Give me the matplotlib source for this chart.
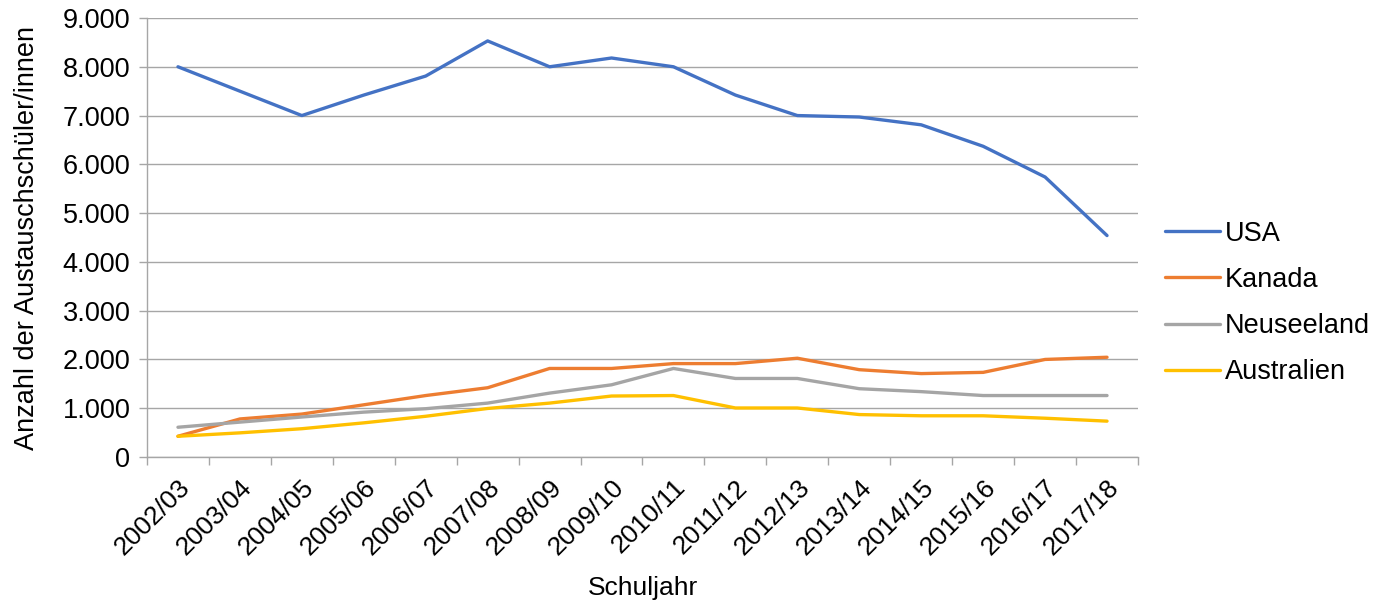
import matplotlib
matplotlib.use("Agg")
import matplotlib.pyplot as plt
from matplotlib.ticker import FuncFormatter, FixedLocator

plt.rcParams['font.family'] = ['Liberation Sans', 'DejaVu Sans']

schuljahre = ["2002/03", "2003/04", "2004/05", "2005/06", "2006/07", "2007/08",
              "2008/09", "2009/10", "2010/11", "2011/12", "2012/13", "2013/14",
              "2014/15", "2015/16", "2016/17", "2017/18"]

usa = [8000, 7500, 7000, 7420, 7810, 8530, 8000, 8180, 8000, 7420, 7000,
       6970, 6810, 6370, 5740, 4540]
kanada = [425, 780, 880, 1070, 1260, 1420, 1815, 1815, 1915, 1915, 2025,
          1790, 1710, 1735, 2000, 2045]
neuseeland = [610, 715, 820, 920, 990, 1105, 1310, 1480, 1815, 1610, 1610,
              1400, 1340, 1260, 1260, 1260]
australien = [425, 495, 580, 700, 835, 995, 1105, 1250, 1260, 1005, 1005,
              870, 845, 845, 795, 735]

serien = [("USA", usa, "#4472C4"),
          ("Kanada", kanada, "#ED7D31"),
          ("Neuseeland", neuseeland, "#A5A5A5"),
          ("Australien", australien, "#FFC000")]

fs = 19.5
fig = plt.figure(figsize=(13.85, 6.04), dpi=100)
ax = fig.add_axes([147 / 1385, 1 - 457 / 604, (1138 - 147) / 1385, (457 - 18) / 604])

x = list(range(len(schuljahre)))
for name, werte, farbe in serien:
    ax.plot(x, werte, color=farbe, lw=2.4, label=name, solid_capstyle='round')

ax.set_xlim(-0.5, len(schuljahre) - 0.5)
ax.set_ylim(0, 9000)
ax.set_yticks(range(0, 9001, 1000))
ax.yaxis.set_major_formatter(FuncFormatter(lambda v, p: f"{int(v):,}".replace(",", ".")))
ax.grid(axis='y', color='#A6A6A6', lw=1.0)
ax.set_axisbelow(True)

ax.set_xticks(x)
ax.set_xticklabels(schuljahre, rotation=45, ha='right', rotation_mode='anchor')
ax.xaxis.set_minor_locator(FixedLocator([i - 0.5 for i in range(len(schuljahre) + 1)]))
ax.tick_params(axis='x', which='major', length=0, pad=13, labelsize=19)
ax.tick_params(axis='x', which='minor', length=6, color='#A6A6A6', width=1)
ax.tick_params(axis='y', length=6, color='#A6A6A6', width=1, labelsize=fs, pad=6)

for s in ['top', 'right']:
    ax.spines[s].set_visible(False)
for s in ['left', 'bottom']:
    ax.spines[s].set_color('#A6A6A6')
    ax.spines[s].set_linewidth(1.0)

ax.set_xlabel("Schuljahr", fontsize=19)
ax.xaxis.set_label_coords(0.5, (457 - 576) / 439)
ax.set_ylabel("Anzahl der Austauschschüler/innen", fontsize=fs, labelpad=16)

fig.legend(loc='center left', bbox_to_anchor=(1141 / 1385, 1 - 303 / 604),
           frameon=False, fontsize=fs, handlelength=2.03, handletextpad=0.18,
           labelspacing=0.75)

fig.savefig("out.png", dpi=100)
